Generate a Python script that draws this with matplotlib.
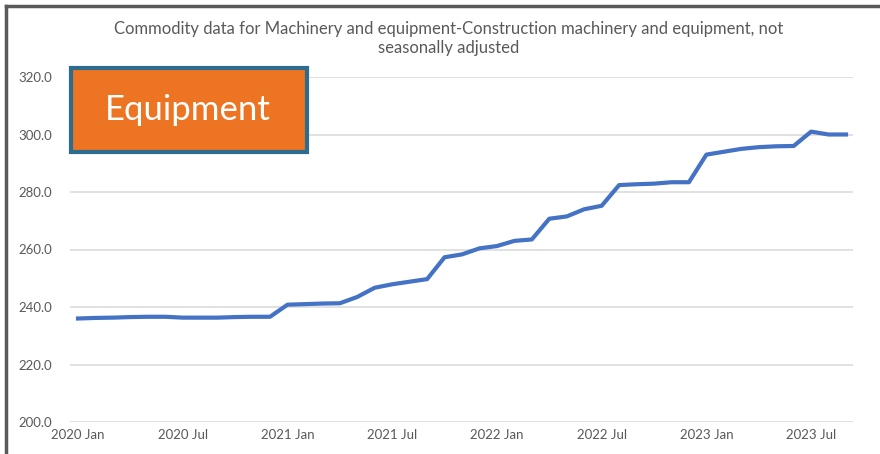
import matplotlib
matplotlib.use('Agg')
import matplotlib.pyplot as plt
from matplotlib.patches import FancyBboxPatch
from matplotlib.lines import Line2D

# monthly values, 2020 Jan .. 2023 Sep
values = [
    236.0, 236.2, 236.3, 236.5, 236.6, 236.6, 236.3, 236.3, 236.3, 236.5, 236.6, 236.6,
    240.8, 241.0, 241.2, 241.3, 243.5, 246.7, 247.9, 248.8, 249.7, 257.3, 258.3, 260.4,
    261.2, 263.0, 263.5, 270.7, 271.5, 274.0, 275.2, 282.4, 282.7, 282.9, 283.4, 283.4,
    293.0, 294.0, 295.0, 295.6, 295.9, 296.0, 301.0, 300.0, 300.0,
]
tick_pos = [0, 6, 12, 18, 24, 30, 36, 42]
tick_labels = ['2020 Jan', '2020 Jul', '2021 Jan', '2021 Jul',
               '2022 Jan', '2022 Jul', '2023 Jan', '2023 Jul']
y_ticks = [200, 220, 240, 260, 280, 300, 320]

title = ('Commodity data for Machinery and equipment-Construction machinery and equipment, not\n'
         'seasonally adjusted')

plt.rcParams['font.family'] = ['Lato', 'DejaVu Sans']
gray = '#595959'

W, H = 880, 454
fig = plt.figure(figsize=(W / 100, H / 100), dpi=100)
ax = fig.add_axes([70 / W, (H - 422) / H, (853 - 70) / W, (422 - 77) / H])

ax.plot(range(len(values)), values, color='#4472C4', lw=3, solid_joinstyle='round')
ax.set_ylim(200, 320)
ax.set_xlim(-0.46, 44.4)
ax.set_yticks(y_ticks)
ax.set_yticklabels(['%.1f' % v for v in y_ticks])
ax.set_xticks(tick_pos)
ax.set_xticklabels(tick_labels)
ax.tick_params(length=0, colors=gray, labelsize=9.5)
ax.tick_params(axis='y', pad=13)
ax.tick_params(axis='x', pad=5)
ax.grid(axis='y', color='#D9D9D9', lw=1.1)
ax.set_axisbelow(True)
for s in ax.spines.values():
    s.set_visible(False)

fig.text(449 / W, 1 - 38.5 / H, title, ha='center', va='center', color=gray,
         fontsize=12, linespacing=1.3)

# orange label box
box = FancyBboxPatch((71 / W, 1 - 152 / H), 236 / W, 84 / H,
                     boxstyle='square,pad=0', transform=fig.transFigure,
                     facecolor='#ED7422', edgecolor='#2E6C8F', lw=3, zorder=5)
fig.add_artist(box)
fig.text(188 / W, 1 - 110 / H, 'Equipment', ha='center', va='center',
         color='white', fontsize=25, zorder=6)

# outer frame (top and left edges)
fig.add_artist(Line2D([6 / W, 1], [1 - 6 / H] * 2, transform=fig.transFigure,
                      color='#5A5A5A', lw=2.5))
fig.add_artist(Line2D([6 / W] * 2, [0, 1 - 6 / H], transform=fig.transFigure,
                      color='#5A5A5A', lw=2.5))

fig.savefig('out.png', dpi=100)
